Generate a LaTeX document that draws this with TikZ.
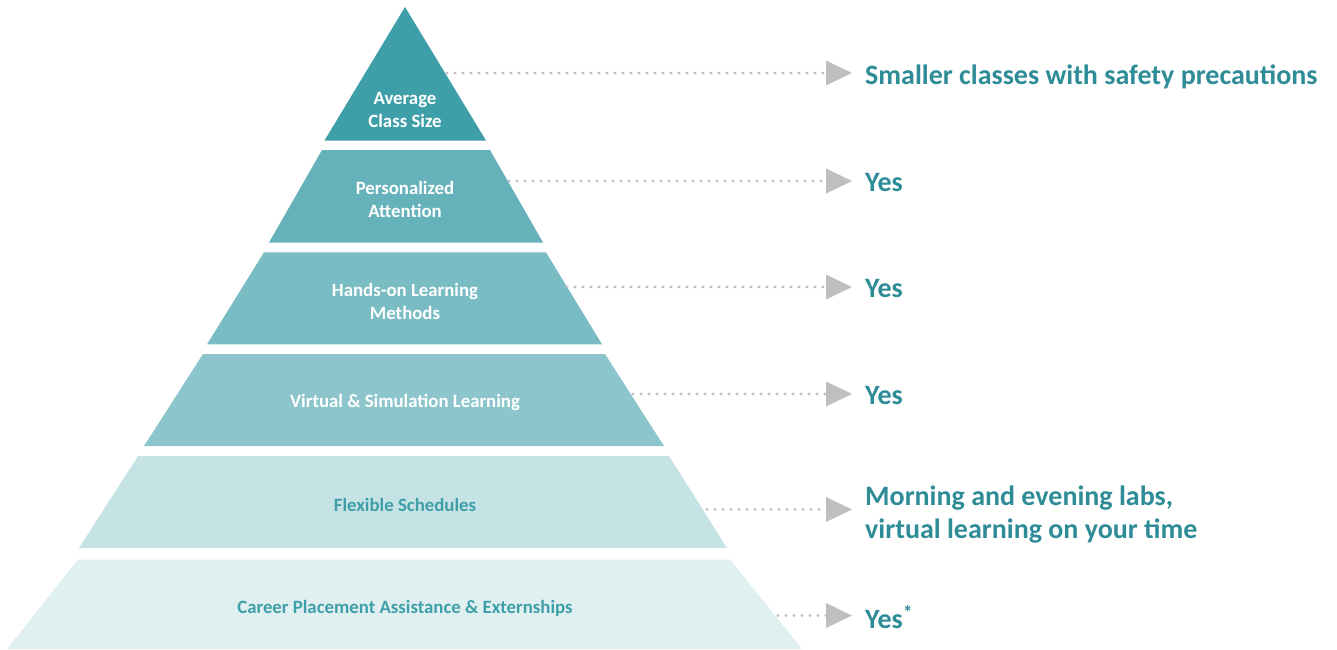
\documentclass[tikz,border=0pt]{standalone}
\usepackage{fontspec}
\setmainfont{Carlito}
\usepackage{xcolor}
\usepackage{tikz}
\usetikzlibrary{calc,arrows.meta}
\definecolor{lvla}{HTML}{3F9FA8}
\definecolor{lvlb}{HTML}{66B2BA}
\definecolor{lvlc}{HTML}{7ABCC3}
\definecolor{lvld}{HTML}{8DC5CC}
\definecolor{lvle}{HTML}{C5E3E5}
\definecolor{lvlf}{HTML}{E0EFF0}
\definecolor{ink}{HTML}{3F9FA9}
\definecolor{answer}{HTML}{2E8C97}
\definecolor{dotc}{HTML}{BFBFBF}
\tikzset{
  lab/.style={text=white, font=\fontsize{18.8}{23}\selectfont\bfseries, align=center, inner sep=0pt},
  labd/.style={lab, text=ink},
  ans/.style={text=answer, font=\fontsize{28}{33}\selectfont\bfseries, align=left, anchor=west, inner sep=0pt},
  link/.style={draw=dotc, line width=3.4pt, line cap=round, dash pattern=on 0pt off 8pt,
    -{Triangle[length=26pt,width=25pt,line width=0pt,fill=dotc]}, shorten >=13pt},
}
\begin{document}
\begin{tikzpicture}[x=1pt,y=-1pt]
  \useasboundingbox (0,0) rectangle (1337,649);
  % pyramid levels
  \fill[lvla] (405,7) -- (486,140.5) -- (324.5,140.5) -- cycle;
  \fill[lvlb] (322,150) -- (490,150) -- (543,242.5) -- (269,242.5) -- cycle;
  \fill[lvlc] (264,252.3) -- (546,252.3) -- (602,344.3) -- (207,344.3) -- cycle;
  \fill[lvld] (203,354) -- (605,354) -- (664,446) -- (144,446) -- cycle;
  \fill[lvle] (138,456) -- (669,456) -- (727,548) -- (79,548) -- cycle;
  \fill[lvlf] (78,559.5) -- (730,559.5) -- (802,649) -- (7,649) -- cycle;

  \node[lab] (avg) at (405,110) {Average\\Class Size};
  \node[lab] (pers) at (405,199) {Personalized\\Attention};
  \node[lab] (hands) at (405,301) {Hands-on Learning\\Methods};
  \node[lab] (virt) at (405,402.5) {Virtual \& Simulation Learning};
  \node[labd] (flex) at (405,505) {Flexible Schedules};
  \node[labd] (career) at (405,608.5) {Career Placement Assistance \& Externships};

  % answers
  \node[ans] (a1) at (865,77) {Smaller classes with safety precautions};
  \node[ans] (a2) at (865,183) {Yes};
  \node[ans] (a3) at (865,289) {Yes};
  \node[ans] (a4) at (865,396) {Yes};
  \node[ans] (a5) at (865,515) {Morning and evening labs,\\virtual learning on your time};
  \node[ans] (a6) at (865,617) {Yes\textsuperscript{*}};

  \coordinate (s1) at (447,73);
  \coordinate (s2) at (509,181);
  \coordinate (s3) at (567,287);
  \coordinate (s4) at (633,394);
  \coordinate (s5) at (707,509.5);
  \coordinate (s6) at (778,615.5);
  \draw[link] (s1) -- (s1 -| a1.west);
  \draw[link] (s2) -- (s2 -| a2.west);
  \draw[link] (s3) -- (s3 -| a3.west);
  \draw[link] (s4) -- (s4 -| a4.west);
  \draw[link] (s5) -- (s5 -| a5.west);
  \draw[link] (s6) -- (s6 -| a6.west);
\end{tikzpicture}
\end{document}
